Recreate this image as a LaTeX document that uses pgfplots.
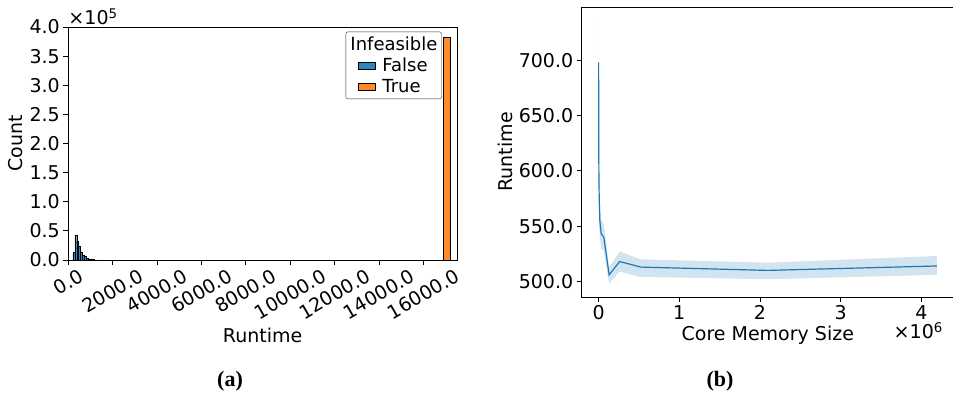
\documentclass[border=0pt]{standalone}
\usepackage{pgfplots}
\pgfplotsset{compat=1.18}
\usepackage{graphicx}
\usepackage{fontspec}
\setmainfont{DejaVu Sans}
\newfontfamily\capfont{Liberation Serif}
\definecolor{c0}{RGB}{31,119,180}
\definecolor{c1}{RGB}{255,127,14}
\pgfplotsset{
  mpl/.style={
    scale only axis,
    /pgf/number format/assume math mode=true,
    tick align=outside,
    major tick length=5pt,
    tick style={black, line width=0.8pt},
    axis line style={black, line width=1pt},
    xtick pos=bottom, ytick pos=left,
    ticklabel style={font=\fontsize{19}{22}\selectfont},
    label style={font=\fontsize{19}{22}\selectfont},
  }
}
\begin{document}
\begin{tikzpicture}
\useasboundingbox (0pt,0pt) rectangle (953pt,394pt);
\clip (0pt,0pt) rectangle (953pt,394pt);
% ---------------- (a) ----------------
\begin{axis}[mpl, at={(68.3pt,134pt)}, anchor=south west, width=388.7pt, height=233pt,
  xmin=0, xmax=17517, ymin=0, ymax=400000,
  xtick={0,2000,4000,6000,8000,10000,12000,14000,16000},
  scaled x ticks=false,
  xticklabel={\rotatebox{30}{\pgfmathprintnumber[fixed,zerofill,precision=1,1000 sep={}]{\tick}}},
  xticklabel style={anchor=north},
  ytick={0,50000,100000,150000,200000,250000,300000,350000,400000},
  scaled y ticks=base 10:-5,
  yticklabel style={/pgf/number format/fixed, /pgf/number format/zerofill, /pgf/number format/precision=1},
  ytick scale label code/.code={×10\textsuperscript{5}},
  every y tick scale label/.style={at={(rel axis cs:0,1)}, anchor=south west, inner sep=0pt, yshift=2pt, font=\fontsize{19}{22}\selectfont},
  xlabel={Runtime}, ylabel={Count},
  xlabel style={at={(axis description cs:0.5,-0.3219)}, anchor=center},
  ylabel style={at={(axis description cs:-0.1346,0.5)}, anchor=center},
  legend style={at={(rel axis cs:0.9606,0.98)}, anchor=north east, draw=black!80, rounded corners=2pt,
    font=\fontsize{18}{21}\selectfont, inner xsep=1pt, inner ysep=2pt, nodes={inner sep=3pt}, row sep=0pt},
  legend cell align=left,
]
\addlegendimage{empty legend}
\addlegendentry{\hspace*{-32pt}Infeasible}
\addplot[ybar, bar width=85, bar shift=0pt, fill=c0, fill opacity=0.9, draw=black, line width=0.4pt,
  legend image code/.code={\path (0pt,0pt) (32pt,0pt);\draw[sharp corners,fill=c0,draw=black,line width=0.6pt] (11pt,-3.5pt) rectangle (28pt,3.5pt);}]
  coordinates {(252.5,13000) (337.5,43000) (422.5,33000) (507.5,23000) (592.5,14000) (677.5,8600)
    (762.5,5700) (847.5,3400) (932.5,2000) (1017.5,1200) (1102.5,700) (1187.5,400) (1272.5,200)};
\addlegendentry{False}
\addplot[ybar, bar width=333, bar shift=0pt, fill=c1, fill opacity=0.9, draw=black, line width=0.6pt,
  legend image code/.code={\path (0pt,0pt) (32pt,0pt);\draw[sharp corners,fill=c1,draw=black,line width=0.6pt] (11pt,-3.5pt) rectangle (28pt,3.5pt);}]
  coordinates {(17066,383000)};
\addlegendentry{True}
\end{axis}
% ---------------- (b) ----------------
\begin{axis}[mpl, at={(581.7pt,96.7pt)}, anchor=south west, width=372.2pt, height=290pt,
  xmin=-208691, xmax=4404019, ymin=485.7, ymax=747.7,
  xtick={0,1000000,2000000,3000000,4000000},
  scaled x ticks=base 10:-6,
  xtick scale label code/.code={×10\textsuperscript{6}},
  every x tick scale label/.style={at={(rel axis cs:0.9707,0)}, anchor=north east, yshift=-25pt, inner sep=0pt, font=\fontsize{19}{22}\selectfont},
  xticklabel style={/pgf/number format/fixed, /pgf/number format/precision=0},
  ytick={500,550,600,650,700},
  scaled y ticks=false,
  yticklabel style={/pgf/number format/fixed, /pgf/number format/zerofill, /pgf/number format/precision=1},
  xlabel={Core Memory Size}, ylabel={Runtime},
  xlabel style={at={(axis description cs:0.5,-0.130)}, anchor=center},
  ylabel style={at={(axis description cs:-0.2047,0.501)}, anchor=center},
]
\addplot[draw=none, fill=c0, fill opacity=0.2] coordinates {
  (1024,735) (2048,690) (4096,640) (8192,600) (16384,570) (32768,556) (65536,552)
  (131072,513) (262144,527) (524288,520) (1048576,519) (2097152,517) (4194304,523)
  (4194304,506) (2097152,502) (1048576,503.5) (524288,504) (262144,509) (131072,498)
  (65536,528) (32768,530) (16384,540) (8192,550) (4096,560) (2048,590) (1024,662)} -- cycle;
\addplot[c0, line width=1.2pt] coordinates {
  (1024,698) (2048,640) (4096,600) (8192,575) (16384,555) (32768,543) (65536,540)
  (131072,506) (262144,518) (524288,513) (1048576,512) (2097152,510) (4194304,514)};
\end{axis}
\node[font=\capfont\bfseries\fontsize{22}{26}\selectfont] at (230pt,12.3pt) {(a)};
\node[font=\capfont\bfseries\fontsize{22}{26}\selectfont] at (720pt,12.3pt) {(b)};
\end{tikzpicture}
\end{document}
